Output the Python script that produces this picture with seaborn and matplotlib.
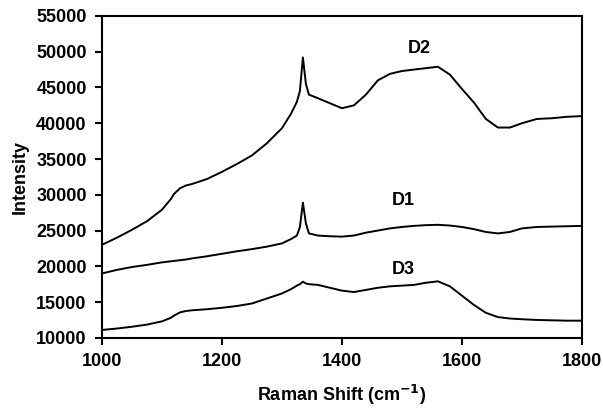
import pandas as pd
import matplotlib
matplotlib.use("Agg")
import matplotlib.pyplot as plt
import seaborn as sns

# Raman shift positions (cm-1) where values were read
shift = [1000, 1025, 1050, 1075, 1100, 1115, 1120, 1130, 1140, 1150, 1175, 1200, 1225, 1250,
         1275, 1300, 1315, 1325, 1330, 1335, 1340, 1345, 1360, 1380, 1400, 1420,
         1440, 1460, 1480, 1500, 1520, 1540, 1560, 1580, 1600, 1620, 1640, 1660,
         1680, 1700, 1725, 1750, 1775, 1800]

d2 = [23000, 24000, 25100, 26300, 27900, 29400, 30100, 30900, 31300, 31500, 32200, 33200, 34300, 35500,
      37200, 39300, 41300, 43000, 44500, 49200, 45500, 44000, 43500, 42800, 42100, 42500,
      44000, 46000, 46900, 47300, 47500, 47700, 47900, 46800, 44800, 42900, 40600, 39400,
      39400, 40000, 40600, 40700, 40900, 41000]

d1 = [19000, 19500, 19900, 20200, 20550, 20700, 20750, 20850, 20950, 21100, 21400, 21750, 22100, 22400,
      22750, 23200, 23800, 24300, 25500, 28900, 26000, 24600, 24300, 24200, 24150, 24300,
      24700, 25000, 25300, 25500, 25650, 25750, 25800, 25700, 25500, 25200, 24800, 24600,
      24800, 25300, 25500, 25550, 25600, 25650]

d3 = [11100, 11300, 11550, 11850, 12300, 12800, 13100, 13550, 13750, 13850, 14000, 14200, 14450, 14800,
      15500, 16200, 16800, 17300, 17500, 17850, 17600, 17500, 17400, 17000, 16600, 16400,
      16700, 17000, 17200, 17300, 17400, 17700, 17900, 17200, 15900, 14600, 13500, 12900,
      12700, 12600, 12500, 12450, 12400, 12400]

samples = ["D2", "D1", "D3"]
label_pos = {"D2": (1529, 50500), "D1": (1503, 29200), "D3": (1503, 19600)}

df = pd.concat([
    pd.DataFrame({"shift": shift, "intensity": vals, "sample": name})
    for name, vals in zip(samples, [d2, d1, d3])
])

sns.set_style("ticks")
plt.rcParams["font.family"] = ["Liberation Sans", "DejaVu Sans"]
plt.rcParams["font.weight"] = "bold"
plt.rcParams["text.color"] = "black"
plt.rcParams["axes.labelcolor"] = "black"

fig = plt.figure(figsize=(6.03, 4.09), dpi=100)
ax = fig.add_axes([0.169, 0.174, 0.796, 0.787])

sns.lineplot(data=df, x="shift", y="intensity", hue="sample",
             palette={s: "black" for s in samples}, linewidth=1.4,
             legend=False, ax=ax)

for name in samples:
    x, y = label_pos[name]
    ax.text(x, y, name, ha="center", va="center", fontsize=13, fontweight="bold", color="black")

ax.set_xlim(1000, 1800)
ax.set_ylim(10000, 55000)
ax.set_xticks(range(1000, 1801, 200))
ax.set_yticks(range(10000, 55001, 5000))
ax.set_xlabel("Raman Shift (cm$^{\\mathbf{-1}}$)", fontsize=13, fontweight="bold", labelpad=9)
ax.set_ylabel("Intensity", fontsize=13, fontweight="bold", labelpad=5)
ax.tick_params(axis="both", direction="out", length=5, width=1.5, labelsize=13,
               pad=6, colors="black")
for lab in ax.get_xticklabels() + ax.get_yticklabels():
    lab.set_fontweight("bold")
for sp in ax.spines.values():
    sp.set_visible(True)
    sp.set_linewidth(1.5)
    sp.set_color("black")

fig.savefig("out.png", dpi=100)
